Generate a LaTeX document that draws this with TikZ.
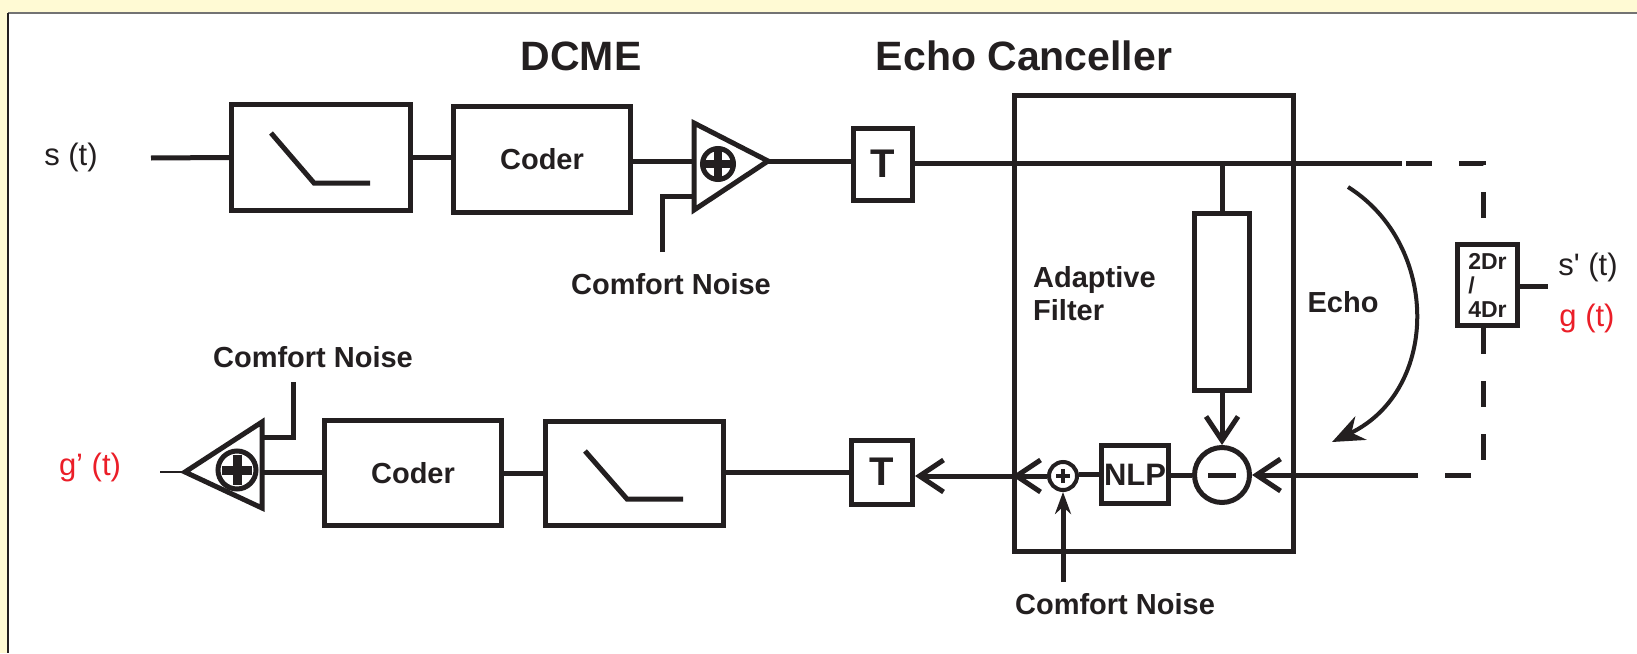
\documentclass[tikz,border=0pt]{standalone}
\usepackage{fontspec}
\setmainfont{Liberation Sans}
\newfontfamily\rawsans{Liberation Sans}
\usetikzlibrary{arrows.meta}
\definecolor{ink}{RGB}{35,31,32}
\definecolor{bgy}{RGB}{255,250,212}
\definecolor{redt}{RGB}{235,30,40}
\tikzset{
  box/.style={draw=ink, line width=5pt, inner sep=0pt, rectangle},
  lbl/.style={font=\bfseries\fontsize{29pt}{33pt}\selectfont, text=ink, inner sep=0pt},
  tlbl/.style={font=\bfseries\fontsize{40pt}{40pt}\selectfont, text=ink, inner sep=0pt},
  sig/.style={font=\fontsize{31pt}{35pt}\selectfont, inner sep=0pt},
  vee/.style={-{Straight Barb[length=24pt,width=32pt]}},
  wire/.style={draw=ink, line width=5pt},
  ring/.style={circle, draw=ink, line width=5pt, inner sep=0pt},
}
\begin{document}
\begin{tikzpicture}[x=1pt,y=-1pt]
\useasboundingbox (0,0) rectangle (1637,653);
\fill[bgy] (0,0) rectangle (1637,653);
\fill[white] (8,13) rectangle (1637,653);
\draw[line width=1.5pt, black!55] (8,13) -- (1637,13);
\draw[line width=1.5pt, ink] (8,13) -- (8,653);

% titles
\node[lbl, font=\bfseries\fontsize{41pt}{45pt}\selectfont] (tdcme) at (581,56) {DCME};
\node[lbl, font=\bfseries\fontsize{41pt}{45pt}\selectfont] (tec) at (1024,56) {Echo Canceller};

% ---------- top row ----------
\node[sig, text=ink] (sl) at (71,157) {s (t)};
\coordinate (sin) at (151,158);
\node[box, minimum width=179pt, minimum height=106pt] (filt1) at (321,157.5) {};
\draw[wire] ([shift={(-50,-24.5)}]filt1.center) -- ([shift={(-7,25.5)}]filt1.center) -- ([shift={(49,25.5)}]filt1.center);
\node[box, lbl, minimum width=177pt, minimum height=106pt] (coder1) at (542,159.5) {Coder};
\coordinate (tri1a) at (694,123);
\coordinate (tri1b) at (694,210);
\coordinate (tri1o) at (768,161);
\draw[wire, line join=miter] (tri1a) -- (tri1o) -- (tri1b) -- cycle;
\node[ring, minimum size=31pt] (sum1) at (718,164) {};
\draw[ink, line width=8pt] ([xshift=-14pt]sum1.center) -- ([xshift=14pt]sum1.center);
\draw[ink, line width=8pt] ([yshift=-14pt]sum1.center) -- ([yshift=14pt]sum1.center);
\node[box, tlbl, minimum width=59pt, minimum height=72pt] (T1) at (883,164) {T};
\coordinate (e1) at (1402,163);

\draw[wire] (sin) -- (filt1.west);
\draw[wire] (filt1.east) -- (filt1.east -| coder1.west);
\draw[wire] (coder1.east |- tri1o) -- (tri1o -| tri1a);
\draw[wire] (tri1o) -- (tri1o -| T1.west);
\draw[wire] (T1.east |- e1) -- (e1);

\coordinate (cn1) at (662,252);
\draw[wire] (cn1) |- (694,196);
\node[lbl] (cnl1) at (671,284) {Comfort Noise};

% ---------- echo canceller ----------
\node[box, minimum width=279pt, minimum height=456pt] (EC) at (1154,323.5) {};
\node[box, minimum width=55pt, minimum height=177pt] (AF) at (1222,302) {};
\node[lbl, align=left, anchor=north west] (afl) at (1033,266) {Adaptive\\Filter};
\node[ring, minimum size=55pt] (sub) at (1222,475) {};
\draw[ink, line width=5pt] ([xshift=-14pt]sub.center) -- ([xshift=14pt]sub.center);
\node[box, lbl, font=\bfseries\fontsize{31pt}{33pt}\selectfont, minimum width=67pt, minimum height=58pt] (NLP) at (1135,474.5) {NLP};
\node[ring, line width=4pt, minimum size=28pt] (sum3) at (1063,476) {};
\draw[ink, line width=4pt] ([xshift=-7pt]sum3.center) -- ([xshift=7pt]sum3.center);
\draw[ink, line width=4pt] ([yshift=-7pt]sum3.center) -- ([yshift=7pt]sum3.center);

\draw[wire] (AF.north) -- (AF.north |- e1);
\coordinate (e2) at (1415,475);
\draw[wire, vee] (e2) -- (sub.east);
\draw[wire, vee] (AF.south) -- (sub.north);
\draw[wire] (sub.west) -- (NLP.east |- sub.west);
\draw[wire] (NLP.west) -- (NLP.west -| sum3.east);
\coordinate (ecl) at (EC.west |- sum3.west);
\draw[wire, vee] (sum3.west) -- (ecl);
\coordinate (cn3) at (1063,582);
\draw[wire, -{Stealth[length=22pt,width=16pt]}] (cn3) -- (sum3.south);
\node[lbl] (cnl3) at (1115,604) {Comfort Noise};

% echo arrow
\node[lbl] (echol) at (1343,302) {Echo};
\coordinate (ea) at (1348,187);
\coordinate (eb) at (1332,442);
\draw[ink, line width=4pt, -{Stealth[length=32pt,width=26pt]}] (ea) .. controls (1440,245) and (1440,390) .. (eb);

% hybrid
\node[box, minimum width=60pt, minimum height=81pt, align=left, font=\bfseries\fontsize{23pt}{24pt}\selectfont, text=ink] (hyb) at (1487.5,285) {2Dr\\/\\4Dr};
\coordinate (dv) at (1483,163);
\coordinate (dv2) at (1483,475);
\draw[wire, dash pattern=on 26pt off 27pt, dash phase=49pt] (e1) -- (dv) -- (dv |- hyb.north);
\draw[wire, dash pattern=on 26pt off 27pt] (dv |- hyb.south) -- (dv2) -- (e2);
\coordinate (ho) at (1548,286);
\draw[wire] (hyb.east |- ho) -- (ho);
\node[sig, text=ink, font=\rawsans\fontsize{31pt}{35pt}\selectfont] (spl) at (1588,267) {s' (t)};
\node[sig, text=redt] (gl) at (1587,318) {g (t)};

% ---------- bottom row ----------
\node[box, tlbl, minimum width=61pt, minimum height=64pt] (T2) at (882,472) {T};
\draw[wire, vee] (ecl) -- (T2.east |- ecl);
\node[box, minimum width=178pt, minimum height=104pt] (filt2) at (634.5,473.5) {};
\draw[wire] ([shift={(-49.5,-22.5)}]filt2.center) -- ([shift={(-7.5,25.5)}]filt2.center) -- ([shift={(48.5,25.5)}]filt2.center);
\node[box, lbl, minimum width=177pt, minimum height=105pt] (coder2) at (413,473) {Coder};
\draw[wire] (T2.west) -- (T2.west -| filt2.east);
\draw[wire] (filt2.west) -- (filt2.west -| coder2.east);
\coordinate (tri2a) at (262,422);
\coordinate (tri2b) at (262,508);
\coordinate (tri2o) at (185,472);
\draw[wire] (coder2.west |- tri2o) -- (tri2o -| tri2a);
\draw[wire, line join=miter] (tri2a) -- (tri2o) -- (tri2b) -- cycle;
\node[ring, minimum size=38pt] (sum2) at (237,470) {};
\draw[ink, line width=9pt] ([xshift=-15pt]sum2.center) -- ([xshift=15pt]sum2.center);
\draw[ink, line width=9pt] ([yshift=-15pt]sum2.center) -- ([yshift=15pt]sum2.center);
\coordinate (gout) at (160,472);
\draw[ink, line width=1.2pt] (tri2o) -- (gout);
\node[sig, text=redt] (gpl) at (90,467) {g’ (t)};
\coordinate (cn2) at (293,382);
\draw[wire] (cn2) |- (262,437);
\node[lbl] (cnl2) at (313,357) {Comfort Noise};
\end{tikzpicture}
\end{document}
